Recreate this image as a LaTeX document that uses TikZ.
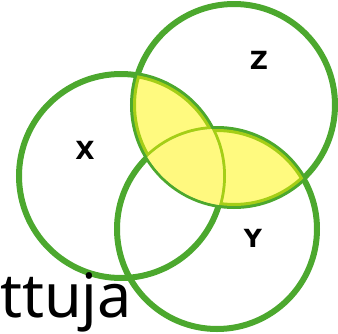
\documentclass[tikz,border=0pt]{standalone}
\usepackage{fontspec}
\setmainfont{Liberation Sans}
\newfontfamily\wordfont{Noto Sans}
\newfontfamily\labelfont{DejaVu Sans}
\definecolor{ringgreen}{HTML}{4CA82E}
\definecolor{hiyellow}{HTML}{FFF500}
\tikzset{
  ring/.style={draw=ringgreen, line width=6pt},
  setlabel/.style={font=\labelfont\bfseries\fontsize{25}{25}\selectfont, inner sep=0pt},
}
\begin{document}
\begin{tikzpicture}[x=1pt,y=-1pt]
\useasboundingbox (0,0) rectangle (338,333);
\coordinate (cx) at (121,176);
\coordinate (cz) at (234,105);
\coordinate (cy) at (217,229);
\draw[ring] (cx) circle[radius=102];
\draw[ring] (cz) circle[radius=101];
\draw[ring] (cy) circle[radius=100];
\begin{scope}
  \clip (cz) circle[radius=101];
  \fill[hiyellow, opacity=0.5] (cx) circle[radius=102] (cy) circle[radius=100];
\end{scope}
\begin{scope}
  \clip (cz) circle[radius=101];
  \clip (cx) circle[radius=102];
  \clip (cy) circle[radius=100];
  \fill[white] (cz) circle[radius=101];
  \fill[hiyellow, opacity=0.5] (cz) circle[radius=101];
\end{scope}
\node[setlabel] (lx) at (85,150) {X};
\node[setlabel] (lz) at (259,60) {Z};
\node[setlabel] (ly) at (253,238) {Y};
\node[anchor=base west, inner sep=0pt, font=\wordfont\fontsize{61}{61}\selectfont] (word) at (0,317) {ttuja};
\end{tikzpicture}
\end{document}
